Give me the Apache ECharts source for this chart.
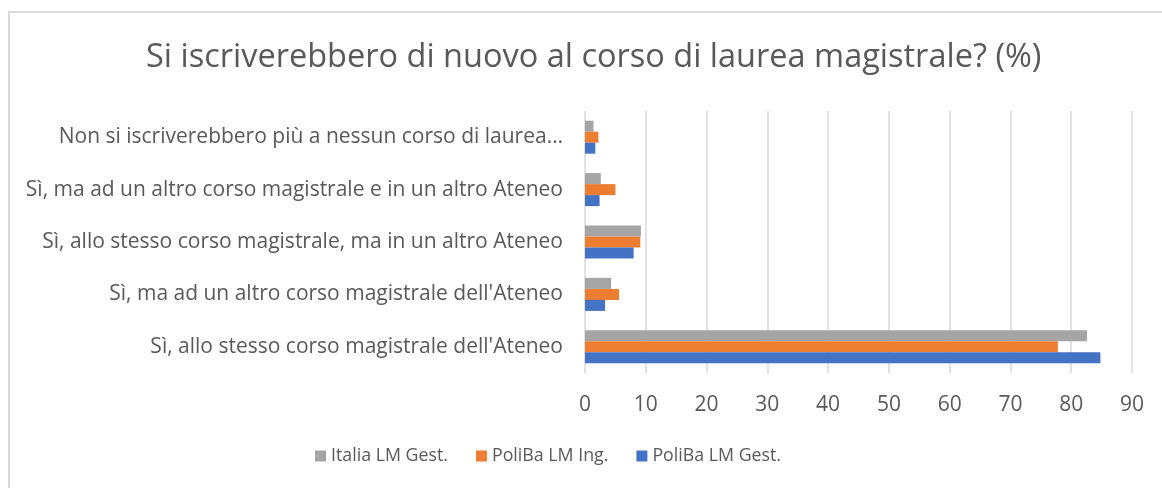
<!DOCTYPE html>
<html>
<head>
<meta charset="utf-8">
<script src="https://cdn.jsdelivr.net/npm/echarts@6/dist/echarts.min.js"></script>
<style>
    html, body { margin: 0; padding: 0; background: #fff; overflow: hidden; }
    #frame { position: absolute; left: 8px; top: 11px; width: 1200px; height: 500px; border: 2px solid #d9d9d9; }
    #chart { position: absolute; left: 0; top: 0; width: 1162px; height: 488px; }
</style>
</head>
<body>
<div id="frame"></div>
<div id="chart"></div>
<script>
// categorie dal basso verso l'alto
var categorie = [
    "Sì, allo stesso corso magistrale dell'Ateneo",
    "Sì, ma ad un altro corso magistrale dell'Ateneo",
    "Sì, allo stesso corso magistrale, ma in un altro Ateneo",
    "Sì, ma ad un altro corso magistrale e in un altro Ateneo",
    "Non si iscriverebbero più a nessun corso di laurea…"
];
var italiaGest = [82.6, 4.3, 9.2, 2.6, 1.4];
var polibaIng = [77.8, 5.6, 9.1, 5.0, 2.2];
var polibaGest = [84.8, 3.3, 8.0, 2.4, 1.7];
var xTicks = { min: 0, max: 90, interval: 10 };

var txtColor = '#595959';
var font = 'Open Sans';

var option = {
    animation: false,
    title: {
        text: 'Si iscriverebbero di nuovo al corso di laurea magistrale? (%)',
        left: 141,
        top: 36,
        textStyle: { fontFamily: font, fontWeight: 'normal', fontSize: 32.5, color: txtColor }
    },
    legend: {
        data: ['Italia LM Gest.', 'PoliBa LM Ing.', 'PoliBa LM Gest.'],
        bottom: 18,
        left: 310,
        itemWidth: 11,
        itemHeight: 11,
        itemGap: 28,
        icon: 'rect',
        textStyle: { fontFamily: font, fontSize: 17.8, color: txtColor }
    },
    grid: { left: 585, right: 30, top: 111, bottom: 115, containLabel: false },
    xAxis: {
        type: 'value',
        min: xTicks.min,
        max: xTicks.max,
        interval: xTicks.interval,
        axisLine: { show: false },
        axisTick: { show: false },
        splitLine: { lineStyle: { color: '#d9d9d9', width: 1.5 } },
        axisLabel: { fontFamily: font, fontSize: 21, color: txtColor, margin: 22 }
    },
    yAxis: {
        type: 'category',
        data: categorie,
        axisLine: { show: false },
        axisTick: { show: false },
        axisLabel: { fontFamily: font, fontSize: 21, color: txtColor, margin: 22 }
    },
    series: [{
        name: 'Italia LM Gest.',
        type: 'bar',
        data: italiaGest,
        barWidth: 11,
        barGap: '0%',
        itemStyle: { color: '#a5a5a5' }
    }, {
        name: 'PoliBa LM Ing.',
        type: 'bar',
        data: polibaIng,
        barWidth: 11,
        barGap: '0%',
        itemStyle: { color: '#ed7d31' }
    }, {
        name: 'PoliBa LM Gest.',
        type: 'bar',
        data: polibaGest,
        barWidth: 11,
        barGap: '0%',
        itemStyle: { color: '#4472c4' }
    }]
};
var echart = echarts.init(document.getElementById('chart'));
echart.setOption(option, true);
</script>
</body>
</html>
